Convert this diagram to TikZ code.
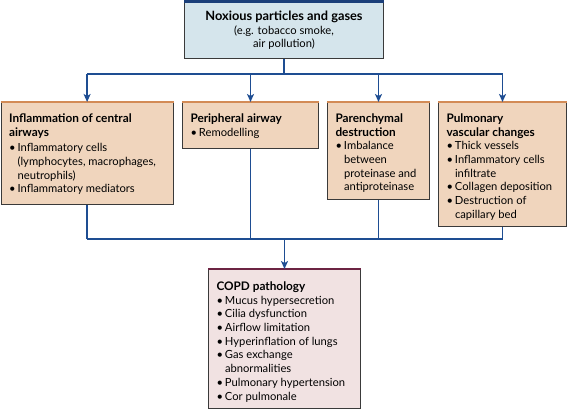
\documentclass[tikz,border=0pt]{standalone}
\usepackage{fontspec}
\setmainfont{Lato}
\usetikzlibrary{arrows.meta}
\definecolor{topfill}{HTML}{D5E5EC}
\definecolor{topbar}{HTML}{1B3F7A}
\definecolor{midfill}{HTML}{F0D5BD}
\definecolor{midbar}{HTML}{D38B56}
\definecolor{botfill}{HTML}{F1E2E2}
\definecolor{botbar}{HTML}{6C2443}
\definecolor{bordc}{HTML}{3A3A3A}
\definecolor{connc}{HTML}{1E4D92}
\newcommand{\bul}[1]{\par\hangindent=8.5pt\hangafter=1\noindent\makebox[8.5pt][l]{\textbullet}#1\par}
\newcommand{\hd}[2]{\par\noindent\rule{0pt}{#1}{\fontsize{11.8}{13.7}\selectfont\bfseries #2}\par}
\newcommand{\bx}[3]{\parbox[t][#2][t]{#1}{\fontsize{11.2}{13.7}\selectfont\leftskip=8pt\rightskip=0pt plus 1fil\parfillskip=0pt plus 1fil\relax #3}}
\tikzset{
  box/.style={draw=bordc, line width=1pt, inner sep=0pt, anchor=north west},
  conn/.style={draw=connc, line width=1.6pt},
  arr/.style={-{Stealth[length=8pt,width=7pt,inset=2pt]}},
}
\begin{document}
\begin{tikzpicture}[x=1pt,y=1pt]
\useasboundingbox (0,0) rectangle (567,-411);
\node[box, fill=topfill] (top) at (184,-2) {\parbox[t][56pt][t]{199pt}{\fontsize{11.2}{13.7}\selectfont\centering\rule{0pt}{18pt}{\fontsize{12.8}{13.7}\selectfont\bfseries Noxious particles and gases}\\(e.g. tobacco smoke,\\air pollution)}};
\draw[topbar, line width=3pt] (top.north west) -- (top.north east);

\node[box, fill=midfill] (b1) at (0.6,-102) {\bx{172pt}{102pt}{\hd{20pt}{Inflammation of central\newline airways}\vspace{2pt}\bul{Inflammatory cells\newline\mbox{(lymphocytes, macrophages,}\newline neutrophils)}\bul{Inflammatory mediators}}};
\node[box, fill=midfill] (b2) at (182,-102) {\bx{136pt}{46pt}{\hd{20pt}{Peripheral airway}\bul{Remodelling}}};
\node[box, fill=midfill] (b3) at (327,-102) {\bx{102pt}{97pt}{\hd{20pt}{Parenchymal\newline destruction}\bul{Imbalance\newline between\newline \mbox{proteinase and}\newline antiproteinase}}};
\node[box, fill=midfill] (b4) at (438,-102) {\bx{128pt}{124pt}{\hd{20pt}{Pulmonary\newline vascular changes}\bul{Thick vessels}\bul{Inflammatory cells\newline infiltrate}\bul{\mbox{Collagen deposition}}\bul{Destruction of\newline capillary bed}}};
\foreach \n in {b1,b2,b3,b4}{\draw[midbar, line width=2.2pt] (\n.north west) -- (\n.north east);}

\node[box, fill=botfill] (bot) at (208,-269) {\bx{152pt}{139pt}{\hd{21pt}{COPD pathology}\bul{Mucus hypersecretion}\bul{Cilia dysfunction}\bul{Airflow limitation}\bul{Hyperinflation of lungs}\bul{Gas exchange\newline abnormalities}\bul{\mbox{Pulmonary hypertension}}\bul{Cor pulmonale}}};
\draw[botbar, line width=2.2pt] (bot.north west) -- (bot.north east);

\coordinate (hl) at (0,-74);
\coordinate (bl) at (0,-239);
\draw[conn] (top.south) -- (top.south |- hl);
\draw[conn] (b1.north |- hl) -- (b4.north |- hl);
\foreach \n in {b1,b2,b3,b4}{\draw[conn,arr] (\n.north |- hl) -- (\n.north);}
\foreach \n in {b1,b2,b3,b4}{\draw[conn] (\n.south) -- (\n.south |- bl);}
\draw[conn] (b1.south |- bl) -- (b4.south |- bl);
\draw[conn,arr] (bot.north |- bl) -- (bot.north);
\end{tikzpicture}
\end{document}
